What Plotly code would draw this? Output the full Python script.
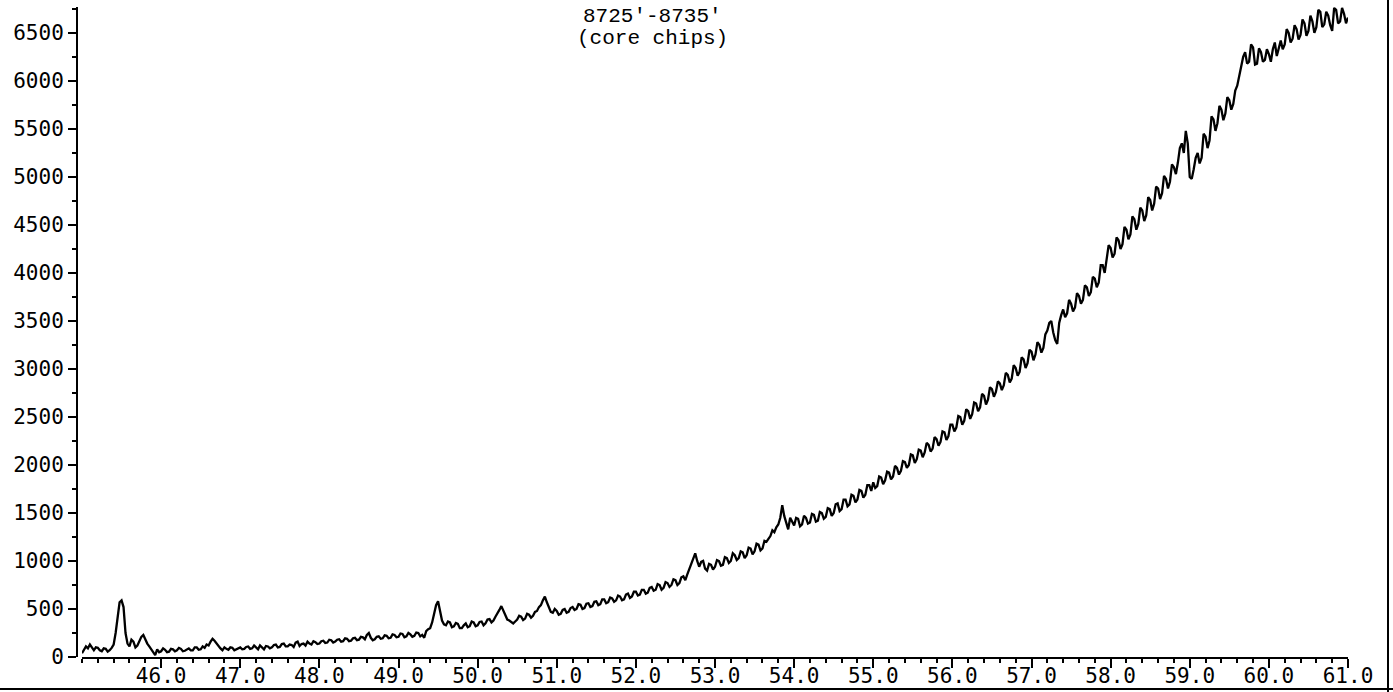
import numpy as np
import plotly.graph_objects as go

# ---- data ----
x_start = 45.0
x_step = 0.025
counts = [
    # 45.000 - 45.975
    40, 75, 110, 90, 130, 100, 70, 100, 95, 70, 60, 90, 85, 55, 70, 95, 130, 250, 420, 570,
    590, 520, 250, 140, 110, 180, 160, 100, 120, 170, 210, 230, 180, 140, 110, 80, 40, 20, 80, 50,
    # 46.000 - 46.975
    60, 90, 75, 50, 55, 85, 80, 60, 70, 95, 85, 60, 65, 80, 90, 70, 70, 100, 100, 75,
    80, 110, 95, 130, 120, 160, 190, 170, 140, 110, 90, 70, 100, 85, 75, 100, 95, 70, 80, 95,
    # 47.000 - 47.975
    100, 80, 85, 105, 110, 85, 90, 120, 95, 80, 120, 95, 80, 115, 110, 90, 100, 125, 130, 100,
    105, 135, 140, 110, 110, 130, 125, 105, 150, 160, 115, 135, 140, 120, 160, 140, 130, 165, 155, 135,
    # 48.000 - 48.975
    140, 165, 170, 145, 150, 180, 175, 150, 160, 180, 185, 160, 165, 195, 190, 165, 170, 195, 200, 175,
    180, 210, 205, 185, 230, 250, 200, 175, 185, 210, 215, 190, 195, 225, 220, 195, 200, 235, 230, 205,
    # 49.000 - 49.975
    210, 245, 240, 205, 215, 250, 235, 210, 220, 255, 250, 215, 230, 200, 270, 290, 300, 360, 440, 540,
    580, 470, 380, 340, 330, 370, 360, 310, 320, 355, 345, 300, 300, 330, 350, 310, 320, 370, 360, 320,
    # 50.000 - 50.975
    330, 365, 370, 330, 350, 390, 395, 360, 380, 420, 450, 490, 530, 480, 420, 390, 380, 360, 350, 370,
    390, 430, 420, 385, 400, 450, 440, 410, 430, 470, 480, 520, 540, 590, 630, 570, 520, 470, 460, 500,
    # 51.000 - 51.975
    480, 440, 450, 490, 500, 460, 470, 510, 520, 490, 500, 550, 545, 500, 510, 555, 560, 520, 530, 575,
    580, 540, 550, 600, 600, 560, 570, 620, 610, 575, 590, 640, 630, 590, 600, 650, 660, 615, 630, 680,
    # 52.000 - 52.975
    680, 640, 650, 700, 700, 660, 670, 720, 730, 690, 700, 760, 750, 700, 720, 780, 770, 730, 750, 810,
    800, 750, 770, 830, 840, 800, 860, 910, 960, 1020, 1080, 1000, 940, 990, 1000, 920, 900, 970, 960, 910,
    # 53.000 - 53.975
    940, 1010, 1000, 950, 960, 1040, 1030, 980, 1000, 1080, 1060, 1010, 1030, 1100, 1090, 1030, 1060, 1140, 1130, 1070,
    1100, 1180, 1170, 1110, 1130, 1210, 1200, 1230, 1260, 1320, 1300, 1350, 1380, 1450, 1580, 1470, 1400, 1330, 1450, 1400,
    # 54.000 - 54.975
    1370, 1450, 1440, 1360, 1380, 1470, 1450, 1390, 1400, 1490, 1480, 1410, 1420, 1510, 1500, 1440, 1460, 1550, 1540, 1470,
    1500, 1590, 1600, 1520, 1540, 1640, 1640, 1570, 1590, 1690, 1680, 1610, 1640, 1740, 1730, 1660, 1690, 1790, 1790, 1730,
    # 55.000 - 55.975
    1820, 1760, 1780, 1880, 1870, 1800, 1840, 1930, 1920, 1850, 1880, 1990, 1970, 1900, 1940, 2040, 2030, 1970, 2000, 2110,
    2100, 2020, 2060, 2160, 2150, 2080, 2130, 2230, 2210, 2140, 2170, 2290, 2270, 2200, 2240, 2350, 2340, 2260, 2300, 2420,
    # 56.000 - 56.975
    2420, 2350, 2390, 2510, 2500, 2420, 2460, 2580, 2560, 2480, 2530, 2650, 2640, 2560, 2600, 2740, 2720, 2630, 2680, 2810,
    2790, 2710, 2760, 2870, 2850, 2780, 2830, 2960, 2940, 2860, 2900, 3040, 3010, 2930, 2970, 3120, 3100, 3010, 3060, 3200,
    # 57.000 - 57.975
    3180, 3090, 3150, 3280, 3250, 3170, 3220, 3360, 3400, 3480, 3500, 3380, 3300, 3260, 3480, 3560, 3620, 3540, 3580, 3720,
    3680, 3600, 3640, 3790, 3760, 3680, 3720, 3870, 3850, 3760, 3800, 3960, 3940, 3850, 3900, 4080, 4080, 4000, 4150, 4290,
    # 58.000 - 58.975
    4260, 4160, 4200, 4370, 4340, 4250, 4300, 4480, 4450, 4350, 4400, 4590, 4560, 4450, 4510, 4680, 4650, 4540, 4600, 4790,
    4760, 4650, 4720, 4900, 4880, 4770, 4830, 5010, 4980, 4880, 4950, 5130, 5100, 5030, 5150, 5300, 5350, 5250, 5480, 5350,
    # 59.000 - 59.975
    5000, 4980, 5080, 5200, 5250, 5140, 5200, 5450, 5420, 5300, 5380, 5630, 5600, 5480, 5560, 5740, 5700, 5590, 5660, 5830,
    5800, 5700, 5760, 5900, 5950, 6050, 6150, 6250, 6300, 6180, 6200, 6380, 6350, 6170, 6180, 6340, 6300, 6200, 6220, 6330,
    # 60.000 - 61.000
    6280, 6200, 6330, 6400, 6260, 6350, 6420, 6330, 6380, 6540, 6500, 6400, 6440, 6580, 6540, 6430, 6480, 6640, 6600, 6470,
    6520, 6680, 6620, 6500, 6560, 6740, 6720, 6560, 6590, 6720, 6680, 6580, 6520, 6760, 6740, 6600, 6620, 6760, 6700, 6600,
    6660,
]
x_tickvals = [46, 47, 48, 49, 50, 51, 52, 53, 54, 55, 56, 57, 58, 59, 60, 61]
x_ticktext = ["46.0", "47.0", "48.0", "49.0", "50.0", "51.0", "52.0", "53.0",
              "54.0", "55.0", "56.0", "57.0", "58.0", "59.0", "60.0", "61.0"]
y_tickvals = [0, 500, 1000, 1500, 2000, 2500, 3000, 3500, 4000, 4500, 5000, 5500, 6000, 6500]
y_ticktext = ["0", "500", "1000", "1500", "2000", "2500", "3000", "3500",
              "4000", "4500", "5000", "5500", "6000", "6500"]
title_lines = ["8725'-8735'", "(core chips)"]

x = x_start + x_step * np.arange(len(counts))

W, H = 1393, 692
ML, MR, MT, MB = 77, 45, 7, 35
PW = W - ML - MR
PH = H - MT - MB

fig = go.Figure()
fig.add_trace(go.Scatter(x=x, y=counts, mode="lines",
                         line=dict(color="black", width=2.3), showlegend=False,
                         hoverinfo="skip"))

tickfont = dict(family="DejaVu Sans Mono", size=21, color="black")
fig.update_layout(
    width=W, height=H, margin=dict(l=ML, r=MR, t=MT, b=MB, autoexpand=False),
    paper_bgcolor="white", plot_bgcolor="white",
    xaxis=dict(domain=[5 / PW, 1], range=[45.0, 61.0], showgrid=False, zeroline=False,
               automargin=False, ticklabelstandoff=-10,
               showline=True, linecolor="black", linewidth=2,
               tickmode="array", tickvals=x_tickvals, ticktext=x_ticktext,
               ticks="outside", ticklen=9, tickwidth=2, tickcolor="black",
               tickfont=tickfont,
               minor=dict(dtick=0.2, tick0=45.0, ticks="outside", ticklen=4,
                          tickwidth=2, tickcolor="black", showgrid=False)),
    yaxis=dict(anchor="free", position=0, range=[0, 6770], showgrid=False, zeroline=False,
               automargin=False,
               showline=True, linecolor="black", linewidth=2,
               tickmode="array", tickvals=y_tickvals, ticktext=y_ticktext,
               ticks="outside", ticklen=8, tickwidth=2, tickcolor="black",
               tickfont=tickfont,
               minor=dict(dtick=250, tick0=0, ticks="outside", ticklen=4,
                          tickwidth=2, tickcolor="black", showgrid=False)),
)

tx = (652 - ML) / PW
fig.add_annotation(x=tx, y=1 + (MT - 3) / PH, xref="paper", yref="paper",
                   text=title_lines[0], showarrow=False, xanchor="center", yanchor="top",
                   font=dict(family="Liberation Mono", size=21, color="black"))
fig.add_annotation(x=tx, y=1 + (MT - 25) / PH, xref="paper", yref="paper",
                   text=title_lines[1], showarrow=False, xanchor="center", yanchor="top",
                   font=dict(family="Liberation Mono", size=21, color="black"))

# scanned page border lines
fig.add_shape(type="line", xref="paper", yref="paper",
              x0=(1388 - ML) / PW, x1=(1388 - ML) / PW, y0=-(H - MT - PH) / PH, y1=1 + MT / PH,
              line=dict(color="black", width=2))
fig.add_shape(type="line", xref="paper", yref="paper",
              x0=-ML / PW, x1=(1393 - ML) / PW, y0=-(689 - MT - PH) / PH, y1=-(689 - MT - PH) / PH,
              line=dict(color="black", width=2))

fig.write_html("out.html")
